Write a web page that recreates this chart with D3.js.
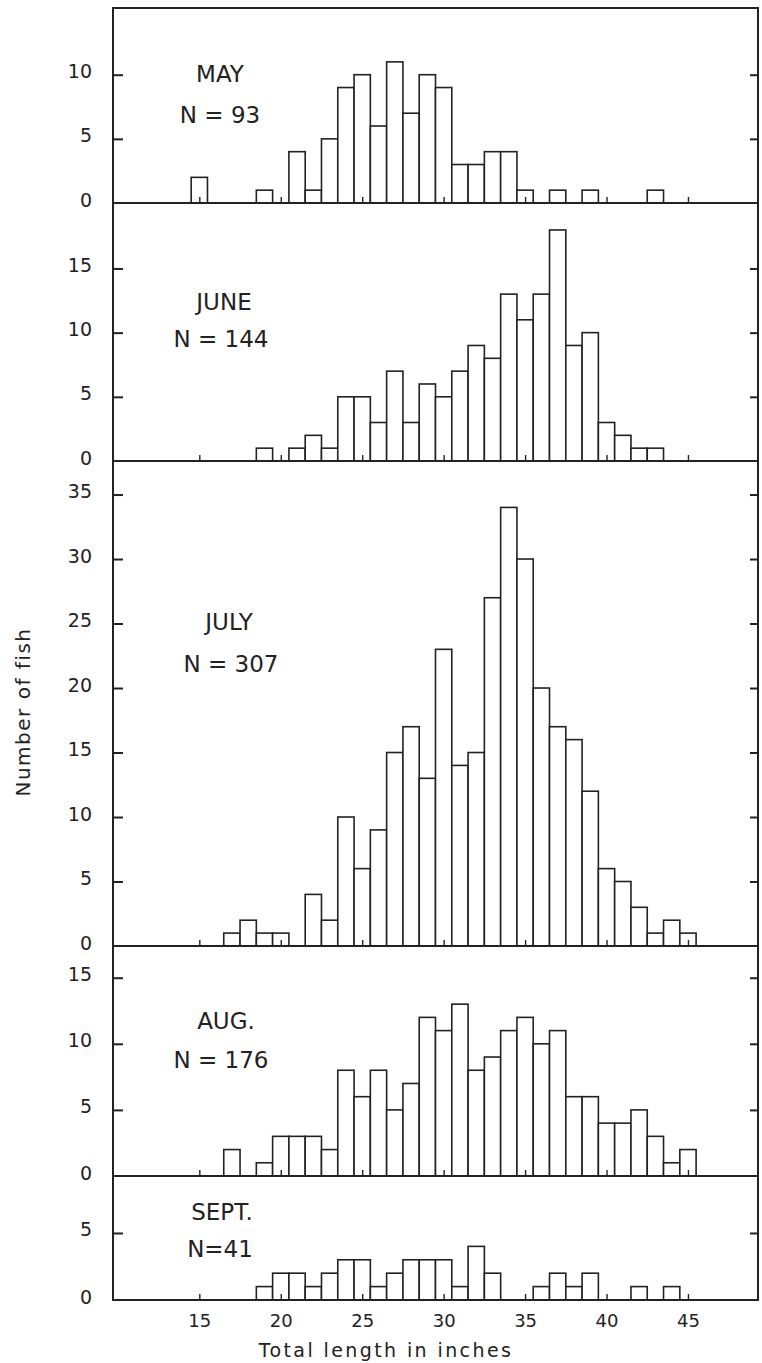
<!DOCTYPE html>
<html lang="en">
<head>
<meta charset="UTF-8">
<title>Total length of fish by month</title>
<script src="https://d3js.org/d3.v7.min.js"></script>
<style>
  body { margin: 0; background: #fff; }
  svg text { font-family: "DejaVu Sans", sans-serif; fill: #222; }
</style>
</head>
<body>
<svg id="chart" width="762" height="1363"></svg>
<script>
// length classes (inches), one bar per inch
const lengths = [15, 16, 17, 18, 19, 20, 21, 22, 23, 24, 25, 26, 27, 28, 29, 30,
                 31, 32, 33, 34, 35, 36, 37, 38, 39, 40, 41, 42, 43, 44, 45];

const months = ["MAY", "JUNE", "JULY", "AUG.", "SEPT."];
const sampleSizes = ["N = 93", "N = 144", "N = 307", "N = 176", "N=41"];

// counts, for lengths 15..45
const mayCounts  = [2, 0, 0, 0, 1, 0, 4, 1, 5, 9, 10, 6, 11, 7, 10, 9, 3, 3, 4, 4, 1, 0, 1, 0, 1, 0, 0, 0, 1, 0, 0];
const juneCounts = [0, 0, 0, 0, 1, 0, 1, 2, 1, 5, 5, 3, 7, 3, 6, 5, 7, 9, 8, 13, 11, 13, 18, 9, 10, 3, 2, 1, 1, 0, 0];
const julyCounts = [0, 0, 1, 2, 1, 1, 0, 4, 2, 10, 6, 9, 15, 17, 13, 23, 14, 15, 27, 34, 30, 20, 17, 16, 12, 6, 5, 3, 1, 2, 1];
const augCounts  = [0, 0, 2, 0, 1, 3, 3, 3, 2, 8, 6, 8, 5, 7, 12, 11, 13, 8, 9, 11, 12, 10, 11, 6, 6, 4, 4, 5, 3, 1, 2];
const septCounts = [0, 0, 0, 0, 1, 2, 2, 1, 2, 3, 3, 1, 2, 3, 3, 3, 1, 4, 2, 0, 0, 1, 2, 1, 2, 0, 0, 1, 0, 1, 0];

const yTickValues = [
  [0, 5, 10],
  [0, 5, 10, 15],
  [0, 5, 10, 15, 20, 25, 30, 35],
  [0, 5, 10, 15],
  [0, 5]
];
const xTickValues = [15, 20, 25, 30, 35, 40, 45];

const allCounts = [mayCounts, juneCounts, julyCounts, augCounts, septCounts];

// layout
const svg = d3.select("#chart");
const frameLeft = 113, frameRight = 758, frameTop = 8;
const ink = "#222";
const panelHeights = [195, 258, 485, 230, 124];
const panelMax = [15.2, 20.1, 37.6, 17.4, 9.25];
// label centre x and baselines (px from panel top)
const labelX = [220, 224, 229, 226, 222];
const labelX2 = [220, 221, 231, 221, 220];
const labelY = [74, 107, 169, 83, 44];
const labelY2 = [115, 144, 211, 122, 81];

const x = d3.scaleLinear().domain([9.7, 49.3]).range([frameLeft, frameRight]);

let y0 = frameTop;
allCounts.forEach((counts, i) => {
  const h = panelHeights[i];
  const g = svg.append("g").attr("transform", `translate(0,${y0})`);
  const y = d3.scaleLinear().domain([0, panelMax[i]]).range([h, 0]);

  const data = lengths.map((len, j) => ({ len: len, n: counts[j] })).filter(d => d.n > 0);

  g.selectAll("rect")
    .data(data)
    .join("rect")
    .attr("x", d => x(d.len - 0.5))
    .attr("y", d => y(d.n))
    .attr("width", d => x(d.len + 0.5) - x(d.len - 0.5))
    .attr("height", d => y(0) - y(d.n))
    .attr("fill", "#fff")
    .attr("stroke", ink)
    .attr("stroke-width", 1.6);

  // small length ticks on the baseline
  const xa = g.append("g")
    .attr("transform", `translate(0,${h})`)
    .call(d3.axisBottom(x).tickValues(xTickValues).tickSize(-6).tickPadding(14)
      .tickFormat(i === allCounts.length - 1 ? d3.format("d") : ""));
  xa.select(".domain").remove();
  xa.selectAll("line").attr("stroke", ink).attr("stroke-width", 1.4);
  xa.selectAll("text").attr("font-size", 18).attr("font-family", "DejaVu Sans");

  // left axis with labels
  const ya = g.append("g")
    .attr("transform", `translate(${frameLeft},0)`)
    .call(d3.axisLeft(y).tickValues(yTickValues[i]).tickSize(-10).tickPadding(21));
  ya.select(".domain").remove();
  ya.selectAll("line").attr("stroke", ink).attr("stroke-width", 2)
    .filter(d => d === 0).remove();
  ya.selectAll("text").attr("font-size", 19).attr("font-family", "DejaVu Sans")
    .attr("dy", null).attr("y", 3);

  // right axis ticks
  const ra = g.append("g")
    .attr("transform", `translate(${frameRight},0)`)
    .call(d3.axisRight(y).tickValues(yTickValues[i].filter(v => v > 0)).tickSize(-8).tickFormat(""));
  ra.select(".domain").remove();
  ra.selectAll("line").attr("stroke", ink).attr("stroke-width", 2);

  // baseline across the frame
  g.append("line")
    .attr("x1", frameLeft).attr("x2", frameRight)
    .attr("y1", y(0)).attr("y2", y(0))
    .attr("stroke", ink).attr("stroke-width", 2);

  g.append("text")
    .attr("x", labelX[i]).attr("y", labelY[i])
    .attr("text-anchor", "middle")
    .attr("font-size", 23)
    .text(months[i]);
  g.append("text")
    .attr("x", labelX2[i]).attr("y", labelY2[i])
    .attr("text-anchor", "middle")
    .attr("font-size", 23)
    .text(sampleSizes[i]);

  y0 += h;
});

// outer frame
svg.append("rect")
  .attr("x", frameLeft).attr("y", frameTop)
  .attr("width", frameRight - frameLeft).attr("height", y0 - frameTop)
  .attr("fill", "none")
  .attr("stroke", ink)
  .attr("stroke-width", 2);

// axis titles
svg.append("text")
  .attr("x", 386).attr("y", 1357)
  .attr("text-anchor", "middle")
  .attr("font-size", 19)
  .attr("letter-spacing", 2.4)
  .text("Total length in inches");

svg.append("text")
  .attr("transform", "translate(30,712) rotate(-90)")
  .attr("text-anchor", "middle")
  .attr("font-size", 20)
  .attr("letter-spacing", 1.5)
  .text("Number of fish");
</script>
</body>
</html>
